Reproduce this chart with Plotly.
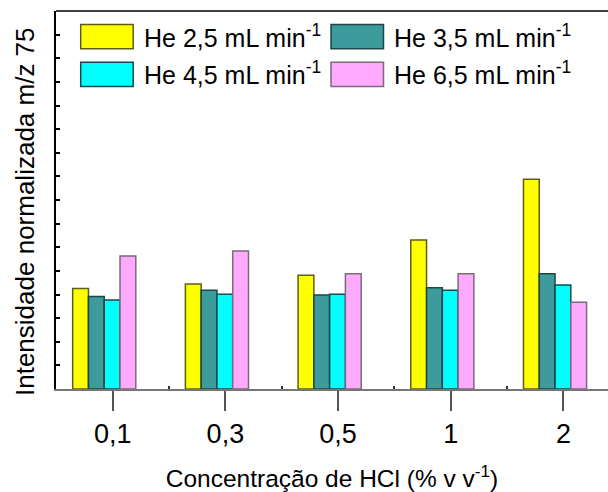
import plotly.graph_objects as go

# ---- data ----
categories = ["0,1", "0,3", "0,5", "1", "2"]
series_names = ["He 2,5 mL min<sup>-1</sup>", "He 3,5 mL min<sup>-1</sup>",
                "He 4,5 mL min<sup>-1</sup>", "He 6,5 mL min<sup>-1</sup>"]
he_25 = [4.25, 4.44, 4.81, 6.31, 8.88]
he_35 = [3.92, 4.18, 3.98, 4.29, 4.88]
he_45 = [3.77, 4.01, 4.01, 4.18, 4.40]
he_65 = [5.63, 5.84, 4.88, 4.88, 3.67]
series_values = [he_25, he_35, he_45, he_65]
x_title = "Concentração de HCl (% v v<sup>-1</sup>)"
y_title = "Intensidade normalizada m/z 75"

# ---- style ----
fill_colors = ["#FFFF00", "#3D9B9B", "#00FFFF", "#FFAAFF"]
edge_colors = ["#5E5E10", "#1E4646", "#104A4A", "#7A6A7A"]
bar_offsets = [-0.355, -0.215, -0.075, 0.065]
bar_width = 0.14
FONT = "Arial, Liberation Sans, sans-serif"

W, H = 608, 492
L, R, T, B = 56, 0, 11, 103
pw, ph = W - L - R, H - T - B


def px_x(x):
    return (x - L) / pw


def px_y(y):
    return (H - B - y) / ph


fig = go.Figure()
for name, vals, fc, ec, off in zip(series_names, series_values, fill_colors,
                                   edge_colors, bar_offsets):
    fig.add_trace(go.Bar(
        x=categories, y=vals, name=name, width=bar_width, offset=off,
        marker=dict(color=fc, line=dict(color=ec, width=1.5)),
        showlegend=False,
    ))

# invisible helper trace for minor ticks between categories
fig.add_trace(go.Scatter(x=[0], y=[0], xaxis="x2", mode="markers",
                         marker=dict(opacity=0), showlegend=False,
                         hoverinfo="skip"))

# manual legend (2 x 2)
legend_cols = [80.7, 331.0]
legend_rows = [24.5, 62.3]
sw_w, sw_h = 52.5, 24.2
shapes = []
annotations = []
for i, (name, fc, ec) in enumerate(zip(series_names, fill_colors, edge_colors)):
    r, c = divmod(i, 2)
    x0 = legend_cols[c]
    y0 = legend_rows[r]
    shapes.append(dict(type="rect", xref="paper", yref="paper",
                       x0=px_x(x0), x1=px_x(x0 + sw_w),
                       y0=px_y(y0), y1=px_y(y0 + sw_h),
                       fillcolor=fc, line=dict(color=ec, width=1.5)))
    annotations.append(dict(text=name, xref="paper", yref="paper",
                            x=px_x(x0 + 61), y=px_y(y0 + sw_h / 2 - 1),
                            xanchor="left", yanchor="middle", showarrow=False,
                            font=dict(family=FONT, size=25, color="black")))

# y-axis title (as rotated annotation for exact placement)
annotations.append(dict(text=y_title, xref="paper", yref="paper",
                        x=px_x(25), y=px_y(212), textangle=-90,
                        xanchor="center", yanchor="middle", showarrow=False,
                        font=dict(family=FONT, size=26, color="black")))

# top frame line
shapes.append(dict(type="line", xref="paper", yref="paper", x0=0, x1=1,
                   y0=1, y1=1, line=dict(color="black", width=1.5)))

fig.update_layout(
    width=W, height=H,
    margin=dict(l=L, r=R, t=T, b=B),
    paper_bgcolor="white", plot_bgcolor="white",
    barmode="overlay",
    font=dict(family=FONT, size=25, color="black"),
    shapes=shapes, annotations=annotations,
    xaxis=dict(
        type="category", range=[-0.503, 4.395],
        showline=True, linecolor="#777777", linewidth=1.5,
        ticks="outside", ticklen=20, tickcolor="#555555", tickwidth=1.5,
        showgrid=False, zeroline=False,
        tickfont=dict(size=27),
        title=dict(text=x_title, font=dict(size=24.5), standoff=24),
        automargin=False,
    ),
    xaxis2=dict(
        overlaying="x", range=[-0.503, 4.395], anchor="y",
        tickvals=[0.5, 1.5, 2.5, 3.5], ticks="inside", ticklen=3,
        tickcolor="#333333", tickwidth=1.5, showticklabels=False,
        showgrid=False, zeroline=False, showline=False, side="bottom",
    ),
    yaxis=dict(
        range=[0, 16], dtick=1, showticklabels=False,
        showline=True, linecolor="black", linewidth=1.5,
        ticks="inside", ticklen=4, tickcolor="black", tickwidth=1.5,
        showgrid=False, zeroline=False,
        automargin=False,
    ),
)

fig.write_html("out.html", config={"displayModeBar": False},
               post_script="document.body.style.margin='0';"
                           "document.body.style.overflow='hidden';")
